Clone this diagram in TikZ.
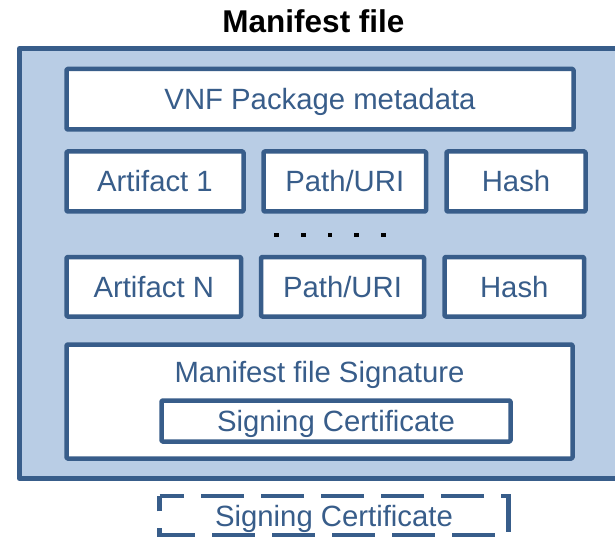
\documentclass[tikz,border=0pt]{standalone}
\usepackage{fontspec}
\setmainfont{Liberation Sans}
\definecolor{bfill}{HTML}{B9CDE5}
\definecolor{bline}{HTML}{385D8A}
\begin{document}
\begin{tikzpicture}[x=1pt,y=-1pt,
  outerbox/.style={draw=bline, fill=bfill, line width=5pt, inner sep=0pt, outer sep=0pt, line join=round},
  box/.style={draw=bline, fill=white, line width=4.5pt, inner sep=0pt, outer sep=0pt, line join=round,
    rounded corners=1pt, text=bline, font=\fontsize{29.3}{35}\selectfont, text height=21pt, text depth=0pt},
  plainbox/.style={inner sep=0pt, outer sep=0pt, text=bline, font=\fontsize{29.3}{35}\selectfont, text height=21pt, text depth=0pt},
  dashbox/.style={draw=bline, line width=4.5pt, dash pattern=on 43pt off 17pt, dash phase=18.3pt},
  dotsq/.style={fill=black, draw=none, minimum size=4.5pt, inner sep=0pt, outer sep=0pt},
  titlestyle/.style={inner sep=0pt, font=\bfseries\fontsize{31.5}{37}\selectfont, text height=22.5pt, text depth=0pt}
]
\clip (0,0) rectangle (615,537);
\fill[white] (0,0) rectangle (615,537);

\node[titlestyle] (title) at (313.5,21) {Manifest file};

\node[outerbox, minimum width=620.5pt, minimum height=430pt] (outer) at (329.75,263.5) {};

\node[box, minimum width=507pt, minimum height=60.5pt] (vnf) at (320,99.25) {VNF Package metadata};

\node[box, minimum width=177pt, minimum height=60pt] (a1) at (155,181.5) {Artifact 1};
\node[box, minimum width=162.5pt, minimum height=60pt] (p1) at (344.75,181.5) {Path/URI};
\node[box, minimum width=139pt, minimum height=60pt] (h1) at (516,181.5) {Hash};

\foreach \i/\x in {1/276.7,2/303.3,3/330,4/356.7,5/383.3}
  \node[dotsq] (dot\i) at (\x,235) {};

\node[box, minimum width=174.5pt, minimum height=59.5pt] (aN) at (153.75,286.75) {Artifact N};
\node[box, minimum width=163pt, minimum height=59.5pt] (pN) at (342.5,286.75) {Path/URI};
\node[box, minimum width=139.5pt, minimum height=59.5pt] (hN) at (514.25,286.75) {Hash};

\node[box, minimum width=506pt, minimum height=114pt] (sig) at (319.5,401.5) {};
\node[plainbox] (sigtext) at (319.5,371.7) {Manifest file Signature};
\node[box, minimum width=349pt, minimum height=41pt] (cert) at (336,421) {Signing Certificate};

\node[plainbox, minimum width=349pt, minimum height=39.5pt] (dcert) at (334,515.75) {Signing Certificate};
\draw[dashbox] (dcert.north west) -- (dcert.north east) -- (dcert.south east) -- (dcert.south west) -- cycle;
\end{tikzpicture}
\end{document}
